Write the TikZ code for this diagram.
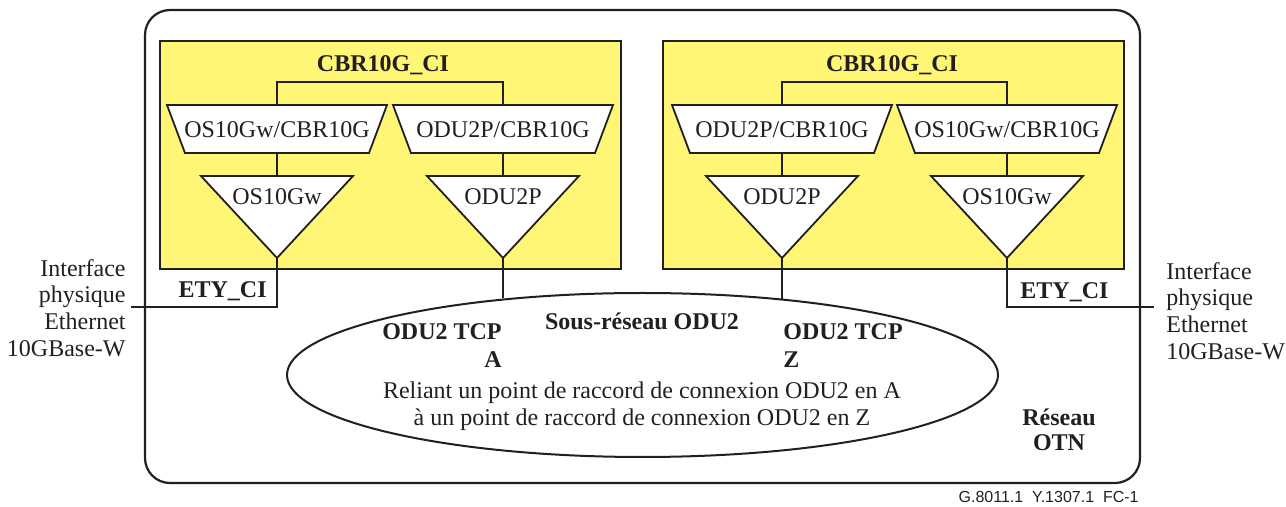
\documentclass[tikz,border=0pt]{standalone}
\usepackage{fontspec}
\setmainfont{Liberation Serif}
\newfontfamily\figidfont{Liberation Sans}
\usetikzlibrary{shapes.geometric}
\definecolor{ink}{RGB}{35,31,32}
\definecolor{ciyellow}{RGB}{255,246,117}
\tikzset{
  ln/.style={draw=ink, line width=0.9pt},
  lbl/.style={inner sep=0pt, text=ink, font=\fontsize{12}{13.4}\selectfont},
  blbl/.style={inner sep=0pt, text=ink, font=\fontsize{12}{14}\selectfont\bfseries},
  % adaptation function: inverted trapezium, placed by its top centre
  adapt/.pic={
    \draw[ln, fill=white] (-110,0) -- (110,0) -- (92,48) -- (-92,48) -- cycle;
    \coordinate (-top) at (0,0);
    \coordinate (-bot) at (0,48);
    \node[lbl] (-txt) at (0,25) {#1};
  },
  % termination function: downward triangle, placed by its top centre
  term/.pic={
    \draw[ln, fill=white] (-76,0) -- (76,0) -- (0,82) -- cycle;
    \coordinate (-top) at (0,0);
    \coordinate (-apex) at (0,82);
    \node[lbl] (-txt) at (0,21) {#1};
  }
}
\begin{document}
\begin{tikzpicture}[x=0.5pt, y=-0.5pt, line join=miter]
\useasboundingbox (0,0) rectangle (1286,507);

% OTN network boundary
\draw[ln, line width=1.1pt, rounded corners=12.5pt] (145,10) rectangle (1140,483);

% client equipment areas
\draw[ln, line width=1.2pt, fill=ciyellow] (160,41) rectangle (621,269);
\draw[ln, line width=1.2pt, fill=ciyellow] (663,41) rectangle (1124,269);

\node[blbl] (ciL) at (383,65) {CBR10G\_CI};
\node[blbl] (ciR) at (892,65) {CBR10G\_CI};

\coordinate (brkL) at (390,82);
\coordinate (brkR) at (894,82);

% left side functions
\pic (aL1) at (277,105) {adapt={OS10Gw/CBR10G}};
\pic (aL2) at (503,105) {adapt={ODU2P/CBR10G}};
\pic (tL1) at (277,176) {term={OS10Gw}};
\pic (tL2) at (503,176) {term={ODU2P}};

% right side functions
\pic (aR1) at (782,105) {adapt={ODU2P/CBR10G}};
\pic (aR2) at (1007,105) {adapt={OS10Gw/CBR10G}};
\pic (tR1) at (782,176) {term={ODU2P}};
\pic (tR2) at (1007,176) {term={OS10Gw}};

% links inside the client areas
\draw[ln] (aL1-top) |- (brkL) -| (aL2-top);
\draw[ln] (aR1-top) |- (brkR) -| (aR2-top);
\draw[ln] (aL1-bot) -- (tL1-top);
\draw[ln] (aL2-bot) -- (tL2-top);
\draw[ln] (aR1-bot) -- (tR1-top);
\draw[ln] (aR2-bot) -- (tR2-top);

% ODU2 subnetwork
\node[ln, line width=1pt, ellipse, minimum width=355.5pt, minimum height=82pt, inner sep=0pt] (sub) at (642.5,375) {};
\draw[ln] (tL2-apex) -- (tL2-apex |- sub.151.5);
\draw[ln] (tR1-apex) -- (tR1-apex |- sub.28.5);

\node[blbl] (subname) at (642,321) {Sous-réseau ODU2};
\node[blbl, align=right, anchor=east] (tcpA) at (502,346) {ODU2 TCP\\A};
\node[blbl, align=left, anchor=west] (tcpZ) at (783,346) {ODU2 TCP\\Z};
\node[lbl, align=center] (subdesc) at (642,406.5) {Reliant un point de raccord de connexion ODU2 en A\\à un point de raccord de connexion ODU2 en Z};

% Ethernet physical interfaces
\coordinate (ethL) at (131,307);
\coordinate (ethR) at (1154,307);
\draw[ln] (tL1-apex) |- (ethL);
\draw[ln] (tR2-apex) |- (ethR);

\node[blbl, anchor=east] (etyL) at (267,291) {ETY\_CI};
\node[blbl, anchor=west] (etyR) at (1020,292) {ETY\_CI};

\node[lbl, align=right, anchor=east] (physL) at (126,308) {Interface\\physique\\Ethernet\\10GBase-W};
\node[lbl, align=left, anchor=west] (physR) at (1166,311) {Interface\\physique\\Ethernet\\10GBase-W};

\node[blbl, align=center, font=\fontsize{12}{12.5}\selectfont\bfseries] (otn) at (1059,429.5) {Réseau\\OTN};

\node[inner sep=0pt, anchor=east, text=ink, font=\figidfont\fontsize{8}{9}\selectfont] (figid) at (1139,497) {G.8011.1\ \ Y.1307.1\ \ FC-1};
\end{tikzpicture}
\end{document}
